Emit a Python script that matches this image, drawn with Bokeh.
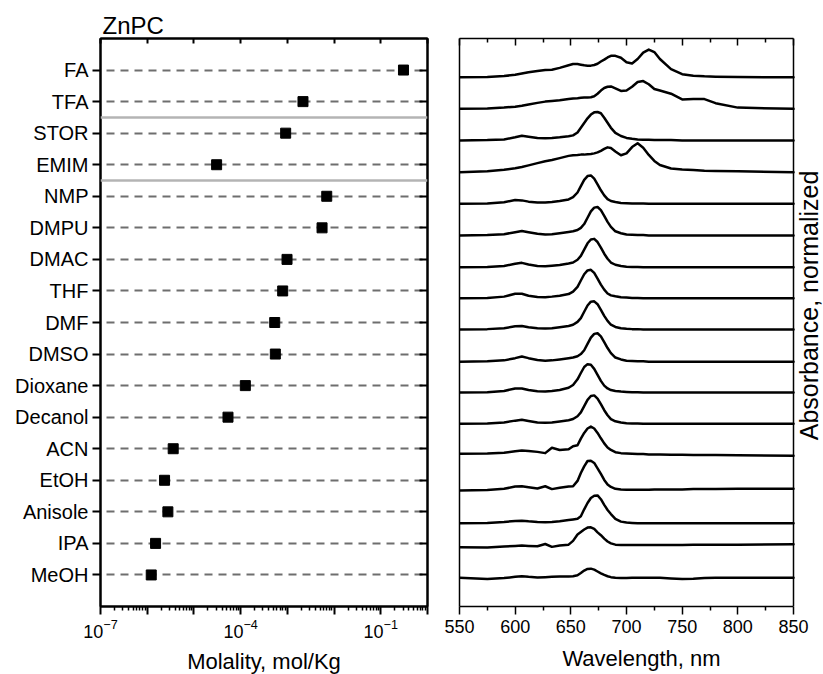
import math
from bokeh.plotting import figure
from bokeh.models import FixedTicker, LogAxis, LinearAxis, Span, Range1d
from bokeh.core.properties import value
from bokeh.layouts import row
from bokeh.embed import file_html
from bokeh.resources import INLINE

FONT = "Liberation Sans"

# ---------------- data ----------------
# solvents, bottom to top
solvents = ["MeOH", "IPA", "Anisole", "EtOH", "ACN", "Decanol", "Dioxane", "DMSO",
            "DMF", "THF", "DMAC", "DMPU", "NMP", "EMIM", "STOR", "TFA", "FA"]
molality = [1.22e-6, 1.51e-6, 2.77e-6, 2.35e-6, 3.6e-6, 5.36e-5, 1.26e-4, 5.53e-4,
            5.36e-4, 7.94e-4, 9.84e-4, 5.53e-3, 6.97e-3, 3.06e-5, 9.2e-4, 2.16e-3, 0.306]
# group separators lie between these pairs of solvents
separator_pairs = [("EMIM", "NMP"), ("TFA", "STOR")]

decade_exponents = [-7, -6, -5, -4, -3, -2, -1, 0]
labeled_exponents = [-7, -4, -1]

wavelength_nm = [550, 575, 590, 600, 606, 612, 620, 627, 633, 640, 648, 652, 656, 659, 662,
                 665, 668, 671, 674, 677, 680, 683, 686, 690, 695, 700, 705, 710, 715, 720,
                 725, 730, 740, 750, 760, 770, 780, 800, 850]
wl_limits = (550, 850)
wl_major_ticks = [550, 600, 650, 700, 750, 800, 850]
wl_minor_ticks = [575, 625, 675, 725, 775, 825]

abs_FA = [0.00, 0.01, 0.04, 0.08, 0.12, 0.16, 0.20, 0.23, 0.24, 0.30, 0.38, 0.42, 0.42, 0.40, 0.38,
          0.37, 0.37, 0.39, 0.43, 0.50, 0.56, 0.63, 0.68, 0.68, 0.62, 0.48, 0.44, 0.58, 0.78, 0.88,
          0.80, 0.58, 0.26, 0.10, 0.05, 0.03, 0.02, 0.01, 0.00]
abs_TFA = [0.00, 0.01, 0.04, 0.07, 0.10, 0.14, 0.19, 0.23, 0.25, 0.27, 0.31, 0.33, 0.34, 0.35, 0.36,
           0.36, 0.37, 0.40, 0.48, 0.58, 0.66, 0.70, 0.71, 0.65, 0.57, 0.58, 0.70, 0.85, 0.88, 0.78,
           0.63, 0.58, 0.48, 0.30, 0.31, 0.31, 0.18, 0.04, 0.00]
abs_STOR = [0.00, 0.01, 0.03, 0.10, 0.15, 0.12, 0.08, 0.07, 0.08, 0.10, 0.13, 0.16, 0.25, 0.40, 0.55,
            0.70, 0.82, 0.89, 0.90, 0.86, 0.72, 0.56, 0.40, 0.24, 0.14, 0.08, 0.05, 0.03, 0.02, 0.02,
            0.01, 0.01, 0.01, 0.00, 0.00, 0.00, 0.00, 0.00, 0.00]
abs_EMIM = [0.00, 0.03, 0.08, 0.13, 0.17, 0.22, 0.29, 0.35, 0.39, 0.45, 0.52, 0.54, 0.55, 0.56, 0.56,
            0.57, 0.58, 0.60, 0.63, 0.68, 0.74, 0.79, 0.77, 0.66, 0.54, 0.60, 0.80, 0.92, 0.78, 0.55,
            0.36, 0.23, 0.12, 0.09, 0.07, 0.05, 0.04, 0.03, 0.00]
abs_NMP = [0.00, 0.01, 0.05, 0.12, 0.11, 0.07, 0.04, 0.04, 0.06, 0.09, 0.14, 0.21, 0.36, 0.56, 0.76,
           0.88, 0.90, 0.80, 0.62, 0.43, 0.27, 0.15, 0.09, 0.06, 0.03, 0.02, 0.01, 0.01, 0.01, 0.00,
           0.00, 0.00, 0.00, 0.00, 0.00, 0.00, 0.00, 0.00, 0.00]
abs_DMPU = [0.00, 0.01, 0.04, 0.10, 0.14, 0.10, 0.05, 0.03, 0.04, 0.07, 0.11, 0.13, 0.17, 0.24, 0.36,
            0.56, 0.76, 0.88, 0.90, 0.80, 0.62, 0.43, 0.27, 0.13, 0.07, 0.03, 0.02, 0.01, 0.01, 0.00,
            0.00, 0.00, 0.00, 0.00, 0.00, 0.00, 0.00, 0.00, 0.00]
abs_DMAC = [0.00, 0.01, 0.04, 0.11, 0.14, 0.09, 0.04, 0.03, 0.05, 0.07, 0.12, 0.15, 0.24, 0.36, 0.56,
            0.76, 0.88, 0.90, 0.80, 0.62, 0.43, 0.27, 0.15, 0.08, 0.04, 0.02, 0.01, 0.01, 0.00, 0.00,
            0.00, 0.00, 0.00, 0.00, 0.00, 0.00, 0.00, 0.00, 0.00]
abs_THF = [0.00, 0.01, 0.05, 0.14, 0.14, 0.08, 0.04, 0.03, 0.05, 0.08, 0.13, 0.21, 0.36, 0.56, 0.76,
           0.88, 0.90, 0.80, 0.62, 0.43, 0.27, 0.15, 0.09, 0.06, 0.03, 0.02, 0.01, 0.01, 0.00, 0.00,
           0.00, 0.00, 0.00, 0.00, 0.00, 0.00, 0.00, 0.00, 0.00]
abs_DMF = [0.00, 0.01, 0.04, 0.10, 0.11, 0.07, 0.04, 0.03, 0.04, 0.07, 0.11, 0.15, 0.24, 0.36, 0.56,
           0.76, 0.88, 0.89, 0.80, 0.62, 0.43, 0.27, 0.15, 0.08, 0.04, 0.02, 0.01, 0.01, 0.00, 0.00,
           0.00, 0.00, 0.00, 0.00, 0.00, 0.00, 0.00, 0.00, 0.00]
abs_DMSO = [0.00, 0.01, 0.04, 0.11, 0.16, 0.11, 0.05, 0.03, 0.04, 0.07, 0.11, 0.13, 0.17, 0.24, 0.36,
            0.56, 0.76, 0.88, 0.90, 0.80, 0.62, 0.43, 0.27, 0.13, 0.07, 0.03, 0.02, 0.01, 0.01, 0.00,
            0.00, 0.00, 0.00, 0.00, 0.00, 0.00, 0.00, 0.00, 0.00]
abs_Dioxane = [0.00, 0.01, 0.05, 0.13, 0.13, 0.08, 0.04, 0.03, 0.05, 0.08, 0.15, 0.24, 0.42, 0.62, 0.81,
               0.90, 0.88, 0.75, 0.56, 0.37, 0.22, 0.13, 0.08, 0.05, 0.03, 0.02, 0.01, 0.01, 0.00, 0.00,
               0.00, 0.00, 0.00, 0.00, 0.00, 0.00, 0.00, 0.00, 0.00]
abs_Decanol = [0.00, 0.01, 0.04, 0.10, 0.13, 0.09, 0.04, 0.03, 0.04, 0.07, 0.11, 0.15, 0.24, 0.36, 0.56,
               0.76, 0.88, 0.90, 0.80, 0.62, 0.43, 0.27, 0.15, 0.08, 0.04, 0.02, 0.01, 0.01, 0.00, 0.00,
               0.00, 0.00, 0.00, 0.00, 0.00, 0.00, 0.00, 0.00, 0.00]
abs_ACN = [0.00, 0.01, 0.03, 0.08, 0.10, 0.09, 0.06, 0.02, 0.19, 0.12, 0.14, 0.24, 0.27, 0.48, 0.66,
           0.80, 0.86, 0.80, 0.66, 0.49, 0.33, 0.20, 0.12, 0.05, 0.02, 0.01, 0.00, -0.01, -0.01, -0.02,
           -0.02, -0.02, -0.03, -0.03, -0.04, -0.04, -0.04, -0.05, -0.06]
abs_EtOH = [0.00, 0.01, 0.05, 0.12, 0.13, 0.10, 0.06, 0.13, 0.04, 0.08, 0.12, 0.13, 0.30, 0.55, 0.76,
            0.93, 0.94, 0.87, 0.70, 0.52, 0.33, 0.19, 0.11, 0.05, 0.03, 0.02, 0.02, 0.02, 0.02, 0.02,
            0.03, 0.03, 0.03, 0.03, 0.04, 0.04, 0.04, 0.05, 0.05]
abs_Anisole = [0.00, 0.01, 0.04, 0.07, 0.08, 0.06, 0.04, 0.03, 0.04, 0.06, 0.10, 0.12, 0.14, 0.22, 0.44,
               0.64, 0.80, 0.87, 0.88, 0.76, 0.58, 0.42, 0.29, 0.14, 0.05, 0.02, 0.01, 0.00, 0.00, 0.00,
               0.00, 0.00, 0.00, 0.00, 0.00, 0.00, 0.00, 0.00, 0.00]
abs_IPA = [0.00, -0.01, 0.02, 0.04, 0.05, 0.04, 0.03, 0.10, 0.01, 0.05, 0.08, 0.20, 0.40, 0.48, 0.56,
           0.62, 0.63, 0.58, 0.47, 0.38, 0.27, 0.18, 0.12, 0.08, 0.07, 0.07, 0.07, 0.07, 0.07, 0.07,
           0.07, 0.07, 0.07, 0.07, 0.08, 0.08, 0.08, 0.08, 0.09]
abs_MeOH = [0.00, -0.04, -0.01, 0.03, 0.05, 0.03, 0.01, 0.02, 0.03, 0.04, 0.04, 0.05, 0.08, 0.15, 0.23,
            0.28, 0.29, 0.26, 0.20, 0.14, 0.09, 0.05, 0.02, 0.00, -0.01, -0.01, 0.00, 0.00, 0.00, 0.00,
            0.00, 0.00, -0.02, -0.04, -0.03, -0.01, 0.00, 0.00, 0.00]

# vertical offset of each stacked spectrum (same order as solvents)
spectrum_offsets = [0.91, 1.88, 2.64, 3.68, 4.84, 5.79, 6.78, 7.76, 8.78, 9.77, 10.75,
                    11.76, 12.76, 13.76, 14.77, 15.77, 16.77]

spectra = {"MeOH": abs_MeOH, "IPA": abs_IPA, "Anisole": abs_Anisole, "EtOH": abs_EtOH,
           "ACN": abs_ACN, "Decanol": abs_Decanol, "Dioxane": abs_Dioxane, "DMSO": abs_DMSO,
           "DMF": abs_DMF, "THF": abs_THF, "DMAC": abs_DMAC, "DMPU": abs_DMPU, "NMP": abs_NMP,
           "EMIM": abs_EMIM, "STOR": abs_STOR, "TFA": abs_TFA, "FA": abs_FA}
for k, v in spectra.items():
    assert len(v) == len(wavelength_nm), k

# ---------------- layout constants ----------------
FRAME_H = 568
LEFT_FW = 327
RIGHT_PANEL_W = 334          # pixel width of the 550-850 nm panel
RIGHT_FW = 364               # frame incl. room for the rotated side title
TOP = 38
BOTTOM = 62
positions = list(range(1, len(solvents) + 1))
pos_of = dict(zip(solvents, positions))
Y_MAX = len(solvents) + 1


def blank(ticks):
    return {t: "" for t in ticks}


# ---------------- left panel ----------------
left = figure(frame_width=LEFT_FW, frame_height=FRAME_H, x_axis_type="log",
              x_range=Range1d(1e-7, 1.0), y_range=Range1d(0, Y_MAX),
              output_backend="svg", toolbar_location=None, title="ZnPC",
              min_border_left=100, min_border_right=12, min_border_top=TOP,
              min_border_bottom=BOTTOM)
left.background_fill_color = "white"
left.border_fill_color = "white"
left.outline_line_color = "black"
left.outline_line_width = 2
left.title.align = "left"
left.title.offset = 2
left.title.standoff = 0
left.title.text_font = FONT
left.title.text_font_size = "24px"
left.title.text_font_style = "normal"
left.title.text_color = "black"

decades = [float(f"1e{e}") for e in decade_exponents]
labeled = [float(f"1e{e}") for e in labeled_exponents]
minors = [m * float(f"1e{e}") for e in decade_exponents[:-1] for m in range(2, 10)]

xb = left.xaxis[0]
xb.ticker = FixedTicker(ticks=decades, minor_ticks=minors)
xb.major_label_overrides = blank([d for d in decades if d not in labeled])
xb.major_tick_in = 0
xb.major_tick_out = 8
xb.minor_tick_in = 0
xb.minor_tick_out = 4
xb.axis_line_width = 2
xb.major_tick_line_width = 2
xb.minor_tick_line_width = 1.5
xb.major_label_text_font = FONT
xb.major_label_text_font_size = "18px"
xb.major_label_text_color = "black"
xb.major_label_standoff = 4
xb.axis_label = "Molality, mol/Kg"
xb.axis_label_text_font = FONT
xb.axis_label_text_font_size = "22px"
xb.axis_label_text_font_style = "normal"
xb.axis_label_text_color = "black"
xb.axis_label_standoff = 8

ya = left.yaxis[0]
ya.ticker = FixedTicker(ticks=positions, minor_ticks=[])
ya.major_label_overrides = {p: s for p, s in zip(positions, solvents)}
ya.major_tick_in = 0
ya.major_tick_out = 8
ya.minor_tick_out = 0
ya.axis_line_width = 2
ya.major_tick_line_width = 2
ya.major_label_text_font = FONT
ya.major_label_text_font_size = "20px"
ya.major_label_text_color = "black"
ya.major_label_standoff = 4

top_ax = LogAxis(ticker=FixedTicker(ticks=decades, minor_ticks=[]), major_tick_in=5,
                 major_tick_out=0, minor_tick_in=0, minor_tick_out=0,
                 major_label_overrides=blank(decades), major_label_standoff=0,
                 major_label_text_font_size="1px",
                 axis_line_width=2, major_tick_line_width=2)
left.add_layout(top_ax, "above")
right_ax = LinearAxis(ticker=FixedTicker(ticks=positions, minor_ticks=[]), major_tick_in=8,
                      major_tick_out=0, minor_tick_in=0, minor_tick_out=0,
                      major_label_overrides=blank(positions), major_label_standoff=0,
                      major_label_text_font_size="1px",
                      axis_line_width=2, major_tick_line_width=2)
left.add_layout(right_ax, "right")

left.xgrid.visible = False
left.ygrid.ticker = ya.ticker
left.ygrid.grid_line_color = "#6e6e6e"
left.ygrid.grid_line_width = 2
left.ygrid.grid_line_dash = "8 6"
left.ygrid.grid_line_dash_offset = 8

for a, b in separator_pairs:
    left.add_layout(Span(location=(pos_of[a] + pos_of[b]) / 2, dimension="width",
                         line_color="#b4b4b4", line_width=2.5))

left.scatter(x=molality, y=positions, marker="square", size=10, color="black")

# ---------------- right panel ----------------
nm_per_px = (wl_limits[1] - wl_limits[0]) / RIGHT_PANEL_W
x_end = wl_limits[0] + RIGHT_FW * nm_per_px
right = figure(frame_width=RIGHT_FW, frame_height=FRAME_H, x_range=Range1d(wl_limits[0], x_end),
               y_range=Range1d(0, Y_MAX), output_backend="svg", toolbar_location=None,
               min_border_left=20, min_border_right=0, min_border_top=TOP,
               min_border_bottom=BOTTOM)
right.background_fill_color = "white"
right.border_fill_color = "white"
right.outline_line_color = None
right.grid.visible = False

xr = right.xaxis[0]
xr.bounds = wl_limits
xr.ticker = FixedTicker(ticks=wl_major_ticks, minor_ticks=wl_minor_ticks)
xr.major_tick_in = 0
xr.major_tick_out = 8
xr.minor_tick_in = 0
xr.minor_tick_out = 4
xr.axis_line_width = 1.5
xr.major_tick_line_width = 1.5
xr.minor_tick_line_width = 1.5
xr.major_label_text_font = FONT
xr.major_label_text_font_size = "18px"
xr.major_label_text_color = "black"
xr.major_label_standoff = 5
xr.axis_label = "Wavelength, nm"
xr.axis_label_text_font = FONT
xr.axis_label_text_font_size = "22px"
xr.axis_label_text_font_style = "normal"
xr.axis_label_text_color = "black"
xr.axis_label_standoff = 10

yr = right.yaxis[0]
yr.ticker = FixedTicker(ticks=[], minor_ticks=[])
yr.major_tick_in = 0
yr.major_tick_out = 0
yr.minor_tick_in = 0
yr.minor_tick_out = 0
yr.major_label_standoff = 0
yr.major_label_text_font_size = "1px"
yr.axis_line_width = 1.5

top_r = LinearAxis(ticker=FixedTicker(ticks=wl_major_ticks, minor_ticks=wl_minor_ticks),
                   bounds=wl_limits,
                   major_tick_in=7, major_tick_out=0, minor_tick_in=4, minor_tick_out=0,
                   major_label_overrides=blank(wl_major_ticks), major_label_standoff=0,
                   major_label_text_font_size="1px",
                   axis_line_width=1.5, major_tick_line_width=1.5, minor_tick_line_width=1.5)
right.add_layout(top_r, "above")
# right edge of the spectra panel
right.add_layout(Span(location=wl_limits[1], dimension="height", line_color="black",
                      line_width=1.5))

for name, off in zip(solvents, spectrum_offsets):
    vals = spectra[name]
    right.line(x=wavelength_nm, y=[off + v for v in vals], line_color="black", line_width=2.5,
               line_join="round", line_cap="round")

# rotated side title, reading bottom to top, in the strip right of the panel
side_x = wl_limits[1] + 15 * nm_per_px
side_y = Y_MAX * (FRAME_H - (305 - TOP)) / FRAME_H
right.text(x=[side_x], y=[side_y], text=["Absorbance, normalized"], angle=math.pi / 2,
           text_align="center", text_baseline="middle", text_font=value(FONT),
           text_font_size=value("25px"), text_color="black")

layout = row(left, right)
open("out.html", "w").write(file_html(layout, INLINE))
